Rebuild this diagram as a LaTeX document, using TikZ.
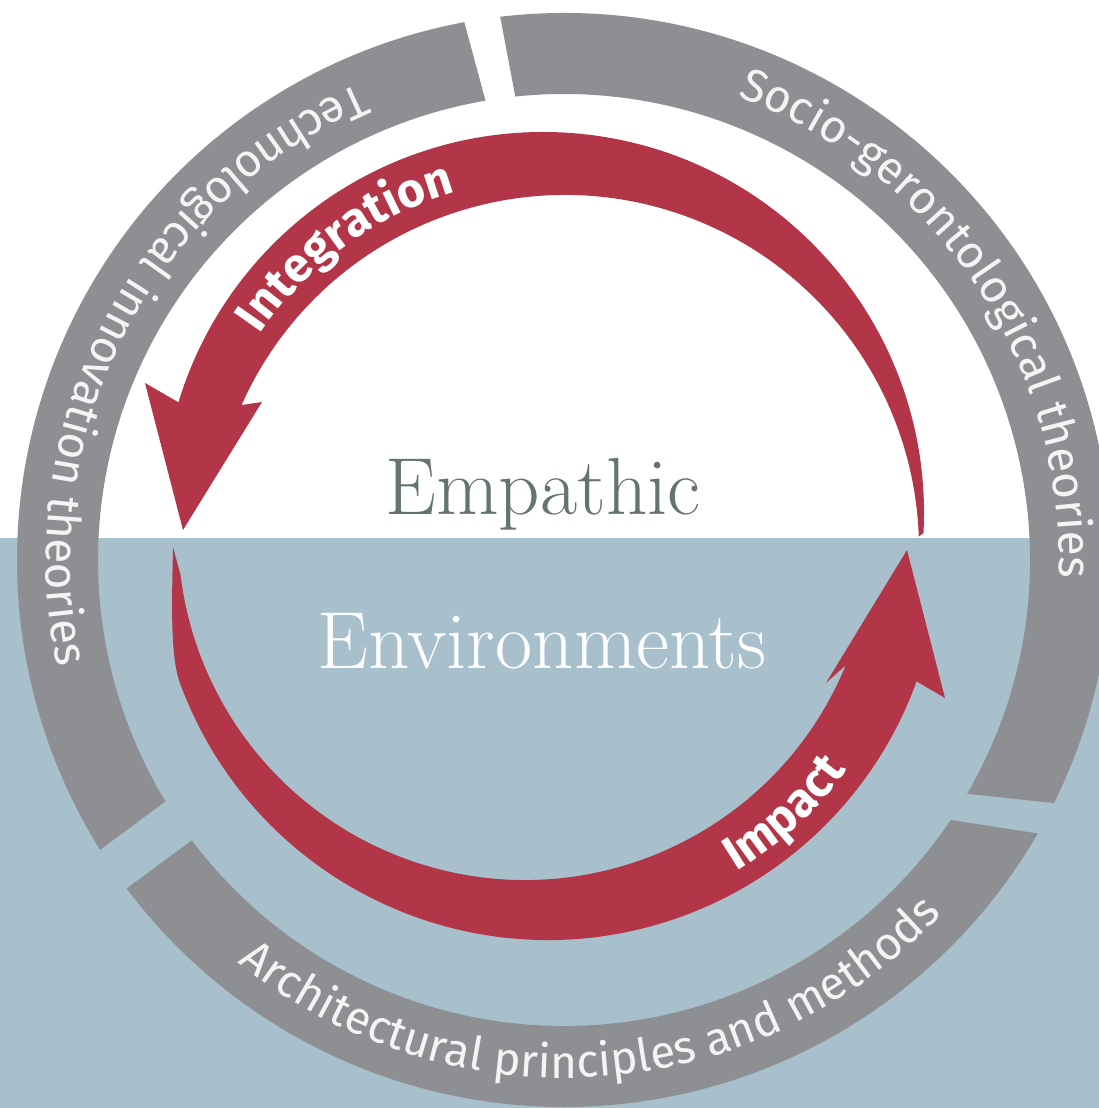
\documentclass[tikz,border=0pt]{standalone}
\usepackage{fontspec}
\usepackage{xcolor}
\usepackage{tikz}
\usetikzlibrary{decorations.text}
\newfontfamily\labelfont{Fira Sans}
\definecolor{ringgray}{HTML}{8E8F93}
\definecolor{arrowred}{HTML}{B33648}
\definecolor{bgblue}{HTML}{A8C0CC}
\definecolor{titlegray}{HTML}{65756D}
\definecolor{ringtext}{HTML}{F4F4F4}
\newcommand{\ringtxt}{\labelfont\fontsize{46}{50}\selectfont\color{ringtext}}
\newcommand{\arrowtxt}{\labelfont\bfseries\fontsize{48}{50}\selectfont\color{white}}
\newcommand{\titletxt}{\fontsize{81}{84}\selectfont\addfontfeature{FakeBold=1.2}}

\begin{document}
\begin{tikzpicture}[x=1pt,y=1pt,
    ringlabel/.style={decorate,decoration={text along path,text align=center,text={|\ringtxt|#1}}},
    arrowlabel/.style={decorate,decoration={text along path,text align=center,text={|\arrowtxt|#1}}}]
        % background
        \clip (-564,-548) rectangle (535,560);
        \fill[white] (-564,-548) rectangle (535,560);
        \fill[bgblue] (-564,-548) rectangle (535,22);
        % ring segments
        \fill[ringgray] (96.7:547pt) arc[start angle=96.7,end angle=-26.4,radius=547pt]
            -- (-30.1:466pt) arc[start angle=-30.1,end angle=96,radius=466pt] -- cycle;
        \fill[ringgray] (-30:547pt) arc[start angle=-30,end angle=-143.1,radius=547pt]
            -- (-143:466pt) arc[start angle=-143,end angle=-33.9,radius=466pt] -- cycle;
        \fill[ringgray] (212:547pt) arc[start angle=212,end angle=100.5,radius=547pt]
            -- (99.7:466pt) arc[start angle=99.7,end angle=211.2,radius=466pt] -- cycle;
        % ring texts
        \path[ringlabel={Socio-gerontological theories}] (80:495pt) arc[start angle=80,end angle=-12.6,radius=495pt];
        \path[ringlabel={Technological innovation theories}] (100:518pt) arc[start angle=100,end angle=205.2,radius=518pt];
        \path[ringlabel={Architectural principles and methods}] (225:518pt) arc[start angle=225,end angle=322.8,radius=518pt];
        % top arrow
        \fill[arrowred] ([shift={(-21,47)}]-3:381pt) arc[start angle=-3,end angle=163.1,radius=381pt]
            -- (-419,177) -- (-381,30) -- (-302,158)
            -- ([shift={(1,11)}]156:354pt) arc[start angle=156,end angle=2,radius=354pt] -- cycle;
        % bottom arrow
        \fill[arrowred] (-391,13) .. controls (-392,-40) and (-394,-95) .. ([shift={(-16,12)}]200:392pt)
            arc[start angle=200,end angle=340.1,radius=392pt]
            -- (381,-138) -- (343,10) -- (262,-123)
            -- ([shift={(-39,27)}]337.6:347pt) arc[start angle=337.6,end angle=187,radius=347pt] -- cycle;
        % arrow texts
        \path[arrowlabel={Integration}] ([shift={(-12,29)}]166:352pt) arc[start angle=166,end angle=86,radius=352pt];
        \path[arrowlabel={Impact}] ([shift={(-28,20)}]-80:387pt) arc[start angle=-80,end angle=-15.4,radius=387pt];
        % title
        \node[anchor=base,font=\titletxt,text=titlegray] (empathic) at (-21,45) {Empathic};
        \node[anchor=base,font=\titletxt,text=white] (environments) at (-22,-108) {Environments};
    \end{tikzpicture}
\end{document}
